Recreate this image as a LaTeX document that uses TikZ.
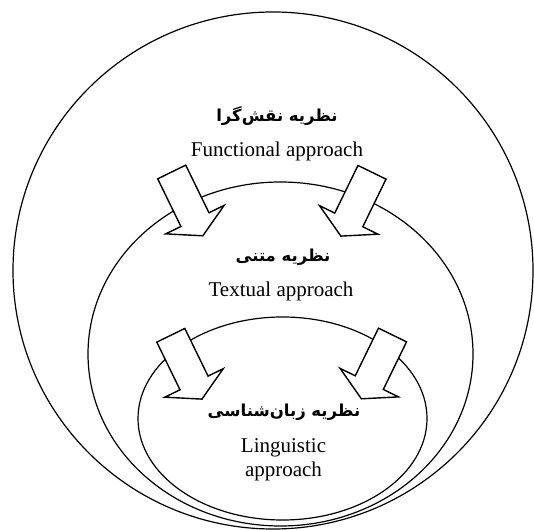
\documentclass[tikz,border=0pt]{standalone}
\usepackage{fontspec}
\setmainfont{Liberation Serif}
\newfontfamily\persianfont[Script=Arabic]{DejaVu Sans}
\TeXXeTstate=1

\tikzset{
  ring/.style={line width=1.2pt},
  blockarrow/.style={draw, line width=1.4pt, fill=white, line join=miter},
  fa/.style={font=\persianfont\bfseries\fontsize{16.5}{18}\selectfont},
  en/.style={font=\fontsize{21}{24}\selectfont, align=center}
}

\begin{document}
\begin{tikzpicture}[x=1pt,y=1pt]
\useasboundingbox (0,0) rectangle (534,529);

% the three approaches, one inside the other
\draw[ring] (273,258.5) ellipse (260pt and 258.5pt);
\draw[ring] (280.5,175) ellipse (192.5pt and 172pt);
\draw[ring] (282.5,110.5) ellipse (144.5pt and 101.5pt);

% block arrows pointing inwards
\foreach \x/\y/\a in {171.7/357/-64, 372/356.7/-116, 170.8/193.7/-64, 392.5/194/-116}
  \draw[blockarrow, shift={(\x,\y)}, rotate=\a]
    (0,-15.6) -- (53,-15.6) -- (53,-32.5) -- (71,0) -- (53,32.5) -- (53,15.6) -- (0,15.6) -- cycle;

\node[fa] (funcfa) at (277,413) {\beginR نظریه نقش^^^^200cگرا\endR};
\node[en] (funcen) at (277,378) {Functional approach};

\node[fa] (textfa) at (283,272) {\beginR نظریه متنی\endR};
\node[en] (texten) at (281,238) {Textual approach};

\node[fa] (lingfa) at (284,117) {\beginR نظریه زبان^^^^200cشناسی\endR};
\node[en] (lingen) at (283.5,69) {Linguistic\\approach};
\end{tikzpicture}
\end{document}
